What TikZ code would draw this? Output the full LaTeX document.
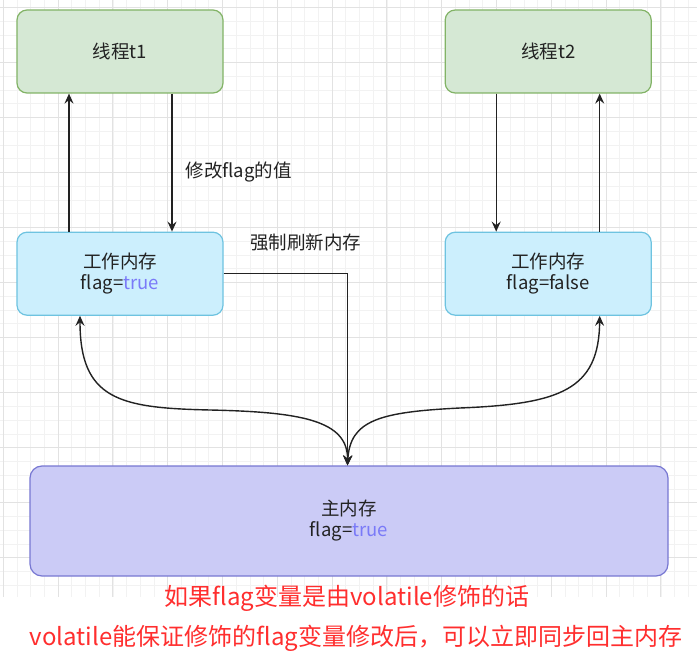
\documentclass[tikz,border=0pt]{standalone}
\usepackage{fontspec}
\setmainfont{Noto Sans CJK SC}
\usepackage{xcolor}
\usetikzlibrary{arrows.meta,positioning}
\definecolor{threadfill}{HTML}{D5E8D4}
\definecolor{threadline}{HTML}{82B366}
\definecolor{workfill}{HTML}{CCEFFD}
\definecolor{workline}{HTML}{6EC3E0}
\definecolor{mainfill}{HTML}{CBCBF6}
\definecolor{mainline}{HTML}{7777D2}
\definecolor{truecol}{HTML}{7A7AF8}
\definecolor{inkdark}{HTML}{222222}
\definecolor{notered}{HTML}{FF2E2E}
\definecolor{gridminor}{HTML}{F2F2F2}
\definecolor{gridmajor}{HTML}{E2E2E2}
\tikzset{
  threadnode/.style={
    rectangle, rounded corners=10pt, draw=threadline, line width=1.2pt,
    fill=threadfill, minimum width=206pt, minimum height=83pt,
    align=center, text=inkdark, font=\fontsize{18.5}{21}\selectfont
  },
  worknode/.style={
    threadnode, draw=workline, fill=workfill
  },
  mainnode/.style={
    threadnode, draw=mainline, fill=mainfill, rounded corners=12pt,
    minimum width=638pt, minimum height=110pt
  },
  flowarrow/.style={-{Stealth[length=10pt,width=9pt,inset=3.5pt]}, line width=1.4pt, color=inkdark},
  botharrow/.style={{Stealth[length=10pt,width=9pt,inset=3.5pt]}-{Stealth[length=10pt,width=9pt,inset=3.5pt]}, line width=1.4pt, color=inkdark},
  lbl/.style={text=inkdark, font=\fontsize{18.5}{21}\selectfont, inner sep=0pt},
  notetext/.style={text=notered, font=\fontsize{24}{27}\selectfont, inner sep=0pt},
}
\newcommand{\truetxt}{\textcolor{truecol}{true}}

\begin{document}
\begin{tikzpicture}[x=1pt, y=-1pt, node distance=138pt and 221pt]
  \useasboundingbox (0,0) rectangle (697,658);
  \fill[white] (0,0) rectangle (697,658);
  % background grid
  \begin{scope}[shift={(3.2,7.3)}]
    \draw[gridminor, line width=0.6pt, xstep=13.7pt, ystep=13.76pt] (-3.2,-7.3) grid (693.8,589.7);
    \draw[gridmajor, line width=0.7pt, xstep=54.8pt, ystep=55.05pt] (-3.2,-7.3) grid (693.8,589.7);
  \end{scope}
  \fill[white] (0,597) rectangle (697,658);

  \node[threadnode] (t1) at (120,51.5) {线程t1};
  \node[threadnode, right=of t1] (t2) {线程t2};
  \node[worknode, below=of t1] (wm1) {工作内存\\flag=\truetxt};
  \node[worknode, below=of t2] (wm2) {工作内存\\flag=false};
  \node[mainnode] (mem) at (349,521) {主内存\\flag=\truetxt};

  \node[lbl, anchor=west] (sync) at (250,243) {强制刷新内存};
  \node[notetext] (note1) at (347,598) {如果flag变量是由volatile修饰的话};
  \node[notetext] (note2) at (356,638) {volatile能保证修饰的flag变量修改后，可以立即同步回主内存};

  \draw[flowarrow] ([xshift=-51pt]wm1.north) -- ([xshift=-51pt]t1.south);
  \draw[flowarrow] ([xshift=52pt]t1.south) -- node[lbl, right=13pt, pos=0.57]{修改flag的值} ([xshift=52pt]wm1.north);
  \draw[flowarrow] ([xshift=-52pt]t2.south) -- ([xshift=-52pt]wm2.north);
  \draw[flowarrow] ([xshift=51.5pt]wm2.north) -- ([xshift=51.5pt]t2.south);
  \draw[flowarrow] (wm1.east) -| ([xshift=-1.5pt]mem.north);

  \draw[botharrow] ([xshift=-1.5pt]mem.north) .. controls (348,420) and (300,412) .. (210,410)
    .. controls (120,408) and (80,400) .. ([xshift=-40pt]wm1.south);
  \draw[botharrow] ([xshift=-1.5pt]mem.north) .. controls (350,420) and (380,412) .. (460,408)
    .. controls (560,404) and (599,390) .. ([xshift=51.5pt]wm2.south);
\end{tikzpicture}
\end{document}
